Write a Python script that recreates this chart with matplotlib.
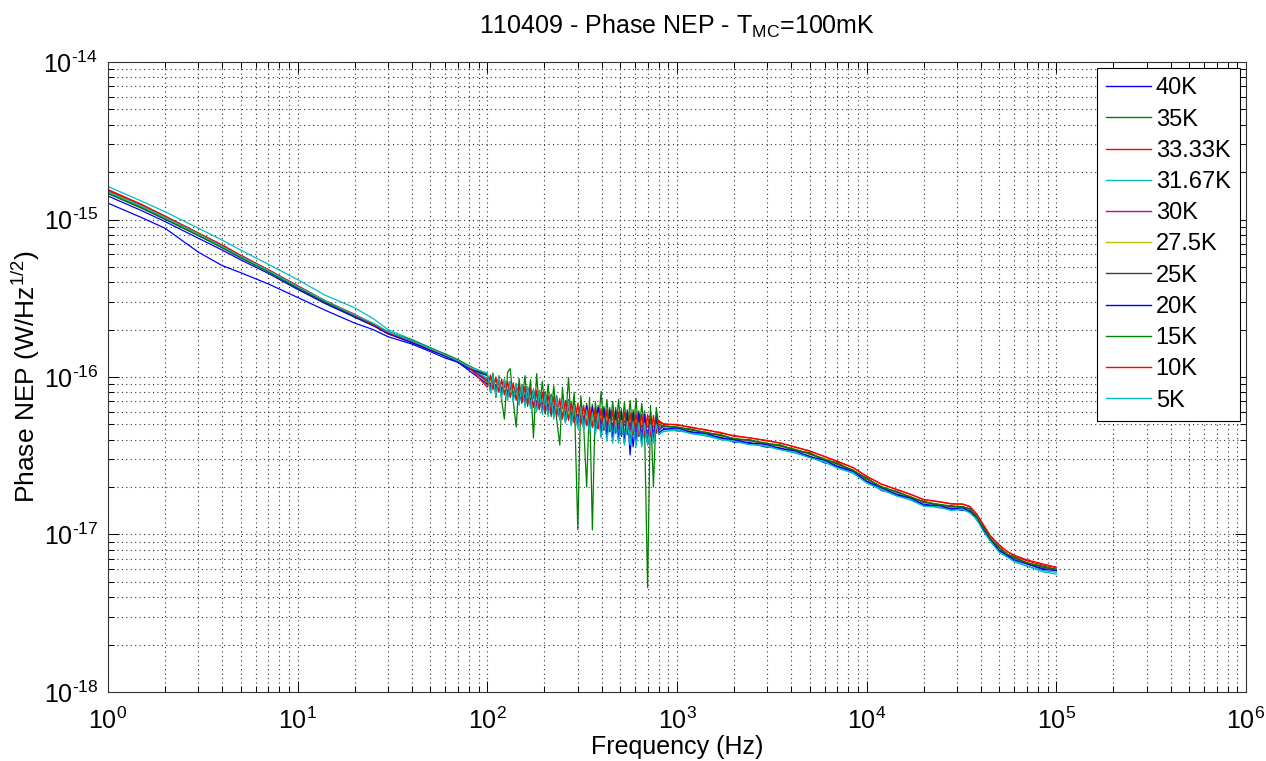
import numpy as np
import matplotlib.pyplot as plt
from matplotlib.ticker import LogLocator, NullFormatter, FuncFormatter

plt.rcParams['font.family'] = ['Liberation Sans', 'DejaVu Sans']
plt.rcParams['mathtext.fontset'] = 'custom'
plt.rcParams['mathtext.rm'] = 'Liberation Sans'
plt.rcParams['mathtext.it'] = 'Liberation Sans:italic'
plt.rcParams['mathtext.bf'] = 'Liberation Sans:bold'

# frequency grid (Hz): low band, noisy band, high band
freq_low = [1, 1.5, 2, 3, 4, 5, 7, 10, 14, 20, 25, 30, 40, 50, 60, 70, 80]
freq_mid = [100, 104, 107, 111, 115, 119, 123, 128, 132, 137,
            142, 147, 152, 158, 163, 169, 175, 182, 188, 195,
            202, 209, 217, 224, 232, 241, 249, 258, 268, 277,
            287, 300, 311, 322, 334, 346, 358, 371, 384, 398,
            412, 427, 442, 458, 475, 492, 509, 528, 547, 566,
            587, 608, 629, 652, 675, 700, 725, 751, 778, 800]
freq_high = [850, 1000, 1200, 1400, 1700, 2000, 2400, 2900, 3500, 4200, 5000, 6000, 7000, 8500,
             10000, 12000, 14500, 17000, 20000, 24000, 28000, 32000, 35000, 38000, 41000, 45000,
             50000, 55000, 60000, 70000, 85000, 100000]

# phase NEP, units of 1e-17 W/Hz^1/2
nep_40K = ([127, 103, 88, 62, 51, 46, 39, 32, 26.5, 22, 20, 18, 16.2, 14.5, 13.2, 12.4, 11.0] +
           [9.0, 10.1, 8.6, 9.6, 8.2, 9.3, 7.9, 8.9, 7.6, 8.7,
            7.3, 8.4, 7.0, 8.1, 6.9, 8.0, 6.6, 7.6, 6.4, 7.4,
            6.1, 7.3, 6.0, 7.0, 5.8, 6.8, 5.6, 6.6, 5.4, 6.5,
            5.2, 6.3, 5.1, 6.2, 4.9, 6.0, 4.8, 5.9, 4.7, 5.8,
            4.6, 5.8, 4.5, 5.7, 4.4, 5.6, 4.2, 5.5, 4.3, 5.6,
            3.6, 5.5, 4.2, 5.4, 4.1, 5.4, 4.2, 5.3, 4.4, 5.2] +
           [4.7, 4.55, 4.5, 4.25, 4.15, 3.85, 3.85, 3.6, 3.55, 3.3, 3.15, 2.85, 2.75, 2.45, 2.2, 1.9,
            1.82, 1.66, 1.57, 1.48, 1.47, 1.42, 1.43, 1.24, 1.1, 0.91, 0.8, 0.73, 0.7, 0.65, 0.61, 0.6])
nep_35K = ([150, 121, 103, 80, 67, 58, 47, 36.5, 29.5, 24, 21.2, 19.5, 16.5, 15.2, 13.5, 12.8, 11.3] +
           [10.4, 8.5, 10.2, 8.1, 9.9, 7.8, 9.7, 7.5, 9.4, 7.3,
            9.1, 7.0, 8.9, 6.8, 8.7, 6.6, 8.4, 6.4, 8.2, 6.1,
            8.1, 5.9, 7.8, 5.7, 7.6, 5.5, 7.4, 5.3, 7.2, 5.2,
            7.1, 5.0, 6.9, 4.9, 6.8, 4.7, 6.7, 4.6, 6.6, 4.5,
            6.5, 4.4, 6.4, 4.3, 6.4, 4.2, 6.3, 4.2, 6.2, 4.1,
            6.2, 4.1, 6.1, 4.0, 6.1, 4.0, 6.0, 4.1, 5.9, 4.5] +
           [4.9, 4.75, 4.65, 4.4, 4.3, 4.0, 4.0, 3.75, 3.7, 3.4, 3.3, 2.95, 2.85, 2.5, 2.28, 1.97,
            1.87, 1.71, 1.62, 1.53, 1.52, 1.48, 1.46, 1.29, 1.13, 0.93, 0.82, 0.75, 0.71, 0.66, 0.62, 0.6])
nep_33K = ([155, 125, 105, 82, 69, 59.5, 48, 38, 30.5, 25, 21.8, 19.2, 17, 15.1, 13.9, 12.7, 11.6] +
           [9.2, 9.8, 8.8, 9.5, 8.5, 9.2, 8.1, 8.9, 7.9, 8.6,
            7.6, 8.3, 7.4, 8.1, 7.2, 7.9, 6.9, 7.6, 6.7, 7.4,
            6.5, 7.2, 6.3, 7.0, 6.1, 6.8, 5.9, 6.6, 5.8, 6.4,
            5.6, 6.3, 5.5, 6.1, 5.3, 6.0, 5.2, 5.9, 5.1, 5.8,
            5.0, 5.7, 5.0, 5.6, 4.9, 5.6, 4.9, 5.5, 4.8, 5.5,
            4.8, 5.4, 4.7, 5.4, 4.7, 5.3, 4.7, 5.3, 4.7, 5.2] +
           [5.0, 5.0, 4.75, 4.65, 4.4, 4.25, 4.1, 3.98, 3.8, 3.6, 3.38, 3.13, 2.9, 2.66, 2.33, 2.09,
            1.92, 1.8, 1.66, 1.62, 1.56, 1.56, 1.5, 1.35, 1.16, 0.97, 0.85, 0.78, 0.73, 0.68, 0.64, 0.615])
nep_31K = ([162, 131, 112, 88, 74, 64, 52, 41.5, 33, 27.5, 23.5, 20, 17.3, 15.4, 13.9, 12.8, 11.5] +
           [9.8, 8.9, 9.5, 8.6, 9.3, 8.3, 9.0, 8.0, 8.8, 7.7,
            8.5, 7.4, 8.3, 7.2, 8.1, 7.0, 7.8, 6.8, 7.6, 6.5,
            7.4, 6.3, 7.2, 6.1, 7.0, 5.9, 6.8, 5.7, 6.6, 5.5,
            6.4, 5.3, 6.2, 5.2, 6.0, 5.0, 5.9, 4.8, 5.8, 4.7,
            5.7, 4.6, 5.6, 4.5, 5.5, 4.4, 5.4, 4.3, 5.3, 4.3,
            5.3, 4.2, 5.2, 4.2, 5.2, 4.2, 5.1, 4.3, 5.0, 4.5] +
           [4.6, 4.65, 4.4, 4.3, 4.05, 3.92, 3.78, 3.66, 3.48, 3.33, 3.1, 2.9, 2.68, 2.46, 2.15, 1.93,
            1.77, 1.67, 1.53, 1.5, 1.44, 1.45, 1.39, 1.26, 1.07, 0.91, 0.78, 0.72, 0.68, 0.63, 0.59, 0.575])
nep_30K = ([152, 123, 104, 81, 68, 58.5, 47.5, 37.5, 30.2, 24.6, 21.6, 19.1, 16.9, 15.0, 13.7, 12.5, 11.4] +
           [9.6, 9.0, 9.3, 8.7, 9.1, 8.4, 8.8, 8.1, 8.5, 7.9,
            8.3, 7.6, 8.0, 7.4, 7.8, 7.2, 7.5, 6.9, 7.3, 6.7,
            7.1, 6.5, 6.9, 6.3, 6.7, 6.1, 6.5, 5.9, 6.3, 5.7,
            6.2, 5.6, 6.0, 5.4, 5.9, 5.3, 5.8, 5.2, 5.7, 5.0,
            5.6, 4.9, 5.6, 4.8, 5.5, 4.7, 5.5, 3.9, 5.4, 4.6,
            5.4, 4.5, 5.3, 4.5, 5.3, 4.4, 5.2, 4.5, 5.1, 4.7] +
           [4.85, 4.75, 4.6, 4.4, 4.25, 4.0, 3.95, 3.75, 3.65, 3.42, 3.25, 2.97, 2.8, 2.53, 2.25, 1.98,
            1.85, 1.72, 1.6, 1.54, 1.5, 1.49, 1.45, 1.3, 1.12, 0.94, 0.82, 0.75, 0.71, 0.66, 0.62, 0.6])
nep_27K = ([149, 121, 103, 80.5, 67.5, 58, 47, 37, 30, 24.4, 21.4, 18.9, 16.7, 14.9, 13.7, 12.6, 11.5] +
           [9.3, 9.5, 8.9, 9.3, 8.6, 9.0, 8.3, 8.7, 8.0, 8.5,
            7.7, 8.2, 7.5, 8.0, 7.3, 7.8, 7.0, 7.5, 6.8, 7.3,
            6.6, 7.1, 6.4, 6.9, 6.2, 6.7, 6.0, 6.5, 5.8, 6.3,
            5.7, 6.2, 5.5, 6.1, 5.4, 5.9, 5.3, 5.8, 5.2, 5.7,
            5.1, 5.6, 5.0, 5.6, 4.9, 5.5, 4.9, 5.5, 4.8, 5.4,
            4.8, 5.4, 4.7, 5.3, 4.3, 5.3, 4.7, 5.2, 4.7, 5.1] +
           [4.8, 4.85, 4.55, 4.5, 4.2, 4.1, 3.9, 3.85, 3.6, 3.5, 3.2, 3.05, 2.76, 2.58, 2.22, 2.02,
            1.83, 1.75, 1.58, 1.56, 1.49, 1.51, 1.44, 1.31, 1.11, 0.95, 0.81, 0.76, 0.7, 0.66, 0.62, 0.59])
nep_25K = ([146, 118, 100, 79, 66, 57, 46.5, 36.5, 29.6, 24.2, 21.3, 18.8, 16.6, 14.8, 13.6, 12.5, 11.4] +
           [9.4, 9.1, 9.2, 8.8, 9.0, 8.5, 8.7, 8.2, 8.4, 8.0,
            8.1, 7.7, 7.9, 7.5, 7.7, 7.3, 7.4, 7.0, 7.2, 6.8,
            7.0, 6.6, 6.8, 6.4, 6.6, 6.2, 6.4, 6.0, 6.2, 5.8,
            6.1, 5.7, 5.9, 5.6, 5.8, 5.4, 5.7, 5.3, 5.6, 5.2,
            5.5, 5.1, 5.5, 5.0, 5.4, 5.0, 5.4, 4.9, 5.3, 4.9,
            5.3, 4.8, 5.2, 4.8, 5.2, 4.8, 5.1, 4.8, 5.1, 4.8] +
           [4.85, 4.8, 4.6, 4.45, 4.25, 4.05, 3.95, 3.8, 3.65, 3.45, 3.25, 3.0, 2.8, 2.55, 2.25, 2.0,
            1.85, 1.73, 1.6, 1.55, 1.5, 1.5, 1.45, 1.3, 1.12, 0.94, 0.82, 0.75, 0.71, 0.66, 0.62, 0.595])
nep_20K = ([141, 114, 97, 76, 64, 55.5, 45.5, 36, 29.2, 24, 21.2, 18.8, 16.5, 14.8, 13.6, 12.4, 11.3] +
           [10.2, 8.4, 10.0, 8.1, 9.7, 7.8, 9.4, 7.5, 9.2, 7.2,
            8.9, 6.9, 8.7, 6.7, 8.5, 6.5, 8.2, 6.3, 8.0, 6.0,
            7.8, 5.8, 7.6, 5.6, 7.4, 5.4, 7.2, 5.2, 7.0, 5.0,
            6.9, 4.8, 6.7, 4.7, 6.6, 4.5, 6.5, 4.4, 6.4, 4.2,
            6.3, 4.1, 6.2, 4.0, 6.1, 3.9, 6.0, 3.8, 6.0, 3.2,
            5.9, 3.7, 5.9, 3.7, 5.8, 3.7, 5.7, 3.9, 5.6, 4.4] +
           [4.65, 4.75, 4.45, 4.4, 4.1, 4.0, 3.8, 3.75, 3.52, 3.4, 3.12, 2.97, 2.7, 2.52, 2.17, 1.98,
            1.78, 1.71, 1.54, 1.53, 1.45, 1.48, 1.4, 1.28, 1.08, 0.93, 0.79, 0.74, 0.69, 0.65, 0.6, 0.59])
nep_15K = ([147, 119, 101, 79, 66.5, 57.5, 46.5, 37, 30, 24.5, 21.5, 19.3, 17.2, 15.3, 14.0, 12.9, 11.8] +
           [10.3, 8.0, 10.6, 7.4, 10.2, 7.1, 5.4, 10.8, 11.3, 7.0,
            4.8, 9.8, 6.8, 10.2, 6.5, 9.6, 4.1, 10.5, 6.2, 9.4,
            5.8, 9.0, 5.6, 8.8, 5.4, 3.7, 8.6, 5.2, 9.9, 5.0,
            8.0, 1.07, 7.6, 4.9, 2.0, 7.4, 1.07, 7.0, 4.7, 8.1,
            4.6, 7.2, 4.5, 7.0, 4.4, 7.2, 4.3, 6.9, 4.4, 7.1,
            4.3, 7.3, 4.2, 6.8, 4.5, 0.46, 6.6, 2.0, 6.4, 5.0] +
           [4.9, 4.8, 4.65, 4.45, 4.3, 4.05, 4.0, 3.8, 3.7, 3.45, 3.3, 3.0, 2.85, 2.55, 2.28, 2.0,
            1.87, 1.73, 1.62, 1.55, 1.52, 1.5, 1.46, 1.3, 1.13, 0.94, 0.83, 0.75, 0.72, 0.66, 0.63, 0.6])
nep_10K = ([153, 124, 105, 82, 68.5, 59, 48, 37.8, 30.4, 24.7, 21.6, 19.1, 16.9, 15.1, 13.8, 12.6, 11.6] +
           [8.6, 10.3, 8.3, 10.0, 8.0, 9.7, 7.7, 9.4, 7.4, 9.2,
            7.1, 8.9, 6.9, 8.7, 6.7, 8.4, 6.4, 8.2, 6.2, 8.0,
            6.0, 7.7, 5.8, 7.5, 5.6, 7.3, 5.4, 7.1, 5.3, 6.9,
            5.1, 6.8, 5.0, 6.6, 4.9, 6.5, 4.8, 6.4, 4.7, 6.3,
            4.6, 6.2, 4.5, 6.1, 4.5, 6.0, 4.4, 6.0, 4.4, 5.9,
            4.3, 5.9, 4.3, 5.8, 4.3, 5.8, 4.2, 5.7, 4.4, 5.3] +
           [5.05, 4.95, 4.8, 4.6, 4.45, 4.2, 4.12, 3.95, 3.82, 3.58, 3.4, 3.12, 2.93, 2.65, 2.35, 2.08,
            1.93, 1.8, 1.67, 1.61, 1.57, 1.56, 1.51, 1.35, 1.17, 0.98, 0.86, 0.78, 0.74, 0.69, 0.65, 0.62])
nep_5K = ([150, 122, 103, 81, 67.5, 58.5, 47.5, 37.5, 30.5, 24.8, 22, 19.4, 17, 15.2, 13.8, 12.7, 11.6] +
          [10.6, 7.9, 10.3, 7.6, 10.0, 7.3, 9.7, 7.1, 9.4, 6.9,
           9.1, 6.6, 8.9, 6.4, 8.7, 6.3, 8.3, 6.0, 8.1, 5.8,
           7.8, 5.6, 7.6, 5.4, 7.4, 5.3, 7.2, 5.1, 7.0, 4.9,
           6.6, 4.7, 6.4, 4.6, 6.2, 4.4, 6.0, 4.3, 5.9, 4.1,
           5.5, 3.9, 5.4, 3.8, 5.3, 3.8, 5.3, 3.7, 5.2, 3.7,
           5.2, 3.6, 5.1, 3.6, 5.1, 3.7, 5.0, 3.8, 5.0, 4.3] +
          [4.5, 4.6, 4.35, 4.25, 4.0, 3.9, 3.72, 3.65, 3.45, 3.3, 3.07, 2.88, 2.64, 2.45, 2.12, 1.92,
           1.75, 1.66, 1.51, 1.49, 1.42, 1.44, 1.37, 1.25, 1.06, 0.9, 0.77, 0.72, 0.67, 0.63, 0.58, 0.56])

labels = ['40K', '35K', '33.33K', '31.67K', '30K', '27.5K', '25K', '20K', '15K', '10K', '5K']
series = [nep_40K, nep_35K, nep_33K, nep_31K, nep_30K, nep_27K, nep_25K, nep_20K, nep_15K, nep_10K, nep_5K]
colors = ['#0000ff', '#008000', '#ff0000', '#00bfbf', '#bf00bf', '#bfbf00', '#404040',
          '#0000ff', '#008000', '#ff0000', '#00bfbf']

freq = np.array(freq_low + freq_mid + freq_high, dtype=float)


def decade_label(v, pos):
    # MATLAB style: 10 with a plain hyphen in the exponent
    e = int(round(np.log10(v)))
    if e < 0:
        return r'$\mathregular{10^{\text{-}%d}}$' % -e
    return r'$\mathregular{10^{%d}}$' % e


fig = plt.figure(figsize=(12.66, 7.61), dpi=100)
ax = fig.add_axes([0.0853, 0.0907, 0.8989, 0.8278])

for lab, vals, col in zip(labels, series, colors):
    assert len(vals) == len(freq), lab
    ax.loglog(freq, np.array(vals) * 1e-17, color=col, lw=0.9, label=lab)

ax.set_xlim(1, 1e6)
ax.set_ylim(1e-18, 1e-14)
ax.xaxis.set_major_locator(LogLocator(base=10, numticks=10))
ax.xaxis.set_minor_locator(LogLocator(base=10, subs=np.arange(2, 10), numticks=20))
ax.yaxis.set_major_locator(LogLocator(base=10, numticks=10))
ax.yaxis.set_minor_locator(LogLocator(base=10, subs=np.arange(2, 10), numticks=20))
ax.xaxis.set_major_formatter(FuncFormatter(decade_label))
ax.yaxis.set_major_formatter(FuncFormatter(decade_label))
ax.xaxis.set_minor_formatter(NullFormatter())
ax.yaxis.set_minor_formatter(NullFormatter())

ax.grid(True, which='both', linestyle=(0, (1, 3)), color='0.2', linewidth=0.8)
ax.tick_params(which='both', direction='in', top=True, right=True, labelsize=18, colors='black')
ax.tick_params(axis='x', which='major', pad=11)
ax.tick_params(axis='y', which='major', pad=7)
ax.tick_params(which='major', length=8, width=0.7)
ax.tick_params(which='minor', length=4, width=0.7)
for sp in ax.spines.values():
    sp.set_linewidth(0.8)
    sp.set_color('0.2')

ax.set_title(r'110409 - Phase NEP - T$_{\mathregular{MC}}$=100mK', fontsize=18, pad=20)
ax.set_xlabel('Frequency (Hz)', fontsize=18, labelpad=1)
ax.set_ylabel(r'Phase NEP (W/Hz$^{\mathregular{1/2}}$)', fontsize=19)
ax.yaxis.set_label_coords(-0.058, 0.5)

leg = ax.legend(loc='upper right', bbox_to_anchor=(0.9947, 0.9905), borderaxespad=0,
                fancybox=False, framealpha=1, edgecolor='black', fontsize=17,
                handlelength=1.9, handletextpad=0.2, labelspacing=0.39, borderpad=0.4)
leg.get_frame().set_linewidth(0.8)
for h in leg.get_lines():
    h.set_linewidth(1.0)

fig.savefig('out.png', dpi=100)
